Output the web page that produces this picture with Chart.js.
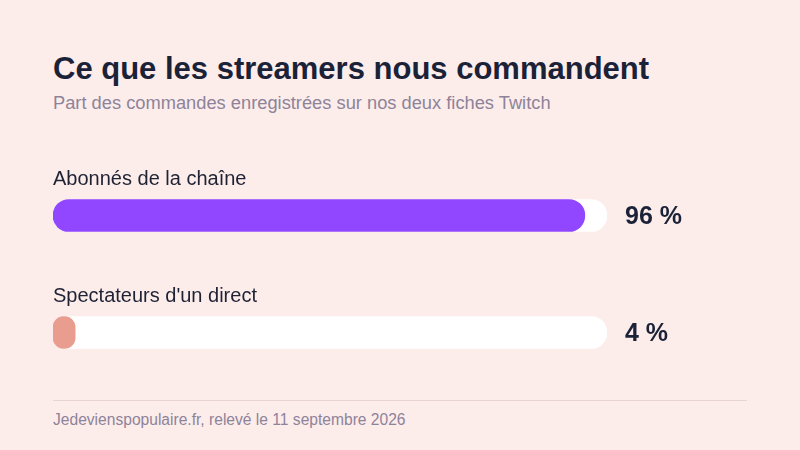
<!DOCTYPE html>
<html>
<head>
<meta charset="utf-8">
<script src="https://cdn.jsdelivr.net/npm/chart.js@4"></script>
<style>
  html, body { margin:0; padding:0; }
  body { width:800px; height:450px; background:#fcedeb; position:relative; overflow:hidden; font-family:"Liberation Sans", Arial, sans-serif; }
  #title { position:absolute; left:53px; top:51px; font-size:31px; line-height:36px; font-weight:bold; color:#1b2238; white-space:nowrap; }
  #subtitle { position:absolute; left:53px; top:92px; font-size:18.3px; line-height:22px; color:#8e8399; white-space:nowrap; }
  #chartWrap { position:absolute; left:0; top:140px; width:800px; height:260px; }
  #rule { position:absolute; left:53px; top:400px; width:694px; height:1px; background:#e8d5d3; }
  #footer { position:absolute; left:53px; top:411px; font-size:15.6px; line-height:18px; color:#8e8399; white-space:nowrap; }
</style>
</head>
<body>
<div id="title">Ce que les streamers nous commandent</div>
<div id="subtitle">Part des commandes enregistrées sur nos deux fiches Twitch</div>
<div id="chartWrap"><canvas id="c"></canvas></div>
<div id="rule"></div>
<div id="footer">Jedeviensopulaire.fr</div>
<script>
const categories = ["Abonnés de la chaîne", "Spectateurs d'un direct"];
const values = [96, 4];
const trackValues = [100, 100];
const barColors = ["#9146ff", "#e89d8f"];
const valueLabels = ["96 %", "4 %"];

document.getElementById('footer').textContent = "Jedeviens" + "populaire.fr, relevé le 11 septembre 2026";

const labelPlugin = {
  id: 'labels',
  afterDatasetsDraw(chart) {
    const ctx = chart.ctx;
    const meta = chart.getDatasetMeta(1);
    ctx.save();
    meta.data.forEach((bar, i) => {
      const y = bar.y;
      ctx.fillStyle = '#1f2233';
      ctx.font = '20px "Liberation Sans", Arial, sans-serif';
      ctx.textAlign = 'left';
      ctx.textBaseline = 'middle';
      ctx.fillText(categories[i], chart.chartArea.left, y - 36);
      ctx.font = 'bold 25px "Liberation Sans", Arial, sans-serif';
      ctx.fillStyle = '#1b2238';
      ctx.fillText(valueLabels[i], chart.chartArea.right + 18, y + 2);
    });
    ctx.restore();
  }
};

new Chart(document.getElementById('c'), {
  type: 'bar',
  data: {
    labels: categories,
    datasets: [
      {
        data: trackValues,
        backgroundColor: '#ffffff',
        borderRadius: 16,
        borderSkipped: false,
        barThickness: 32,
        grouped: false,
        order: 2
      },
      {
        data: values,
        backgroundColor: barColors,
        borderRadius: 16,
        borderSkipped: false,
        barThickness: 32,
        grouped: false,
        order: 1
      }
    ]
  },
  options: {
    indexAxis: 'y',
    responsive: true,
    maintainAspectRatio: false,
    animation: false,
    layout: { padding: { left: 53, right: 193, top: 17, bottom: 9 } },
    scales: {
      x: { display: false, min: 0, max: 100 },
      y: { display: false }
    },
    plugins: { legend: { display: false }, tooltip: { enabled: false } }
  },
  plugins: [labelPlugin]
});
</script>
</body>
</html>
